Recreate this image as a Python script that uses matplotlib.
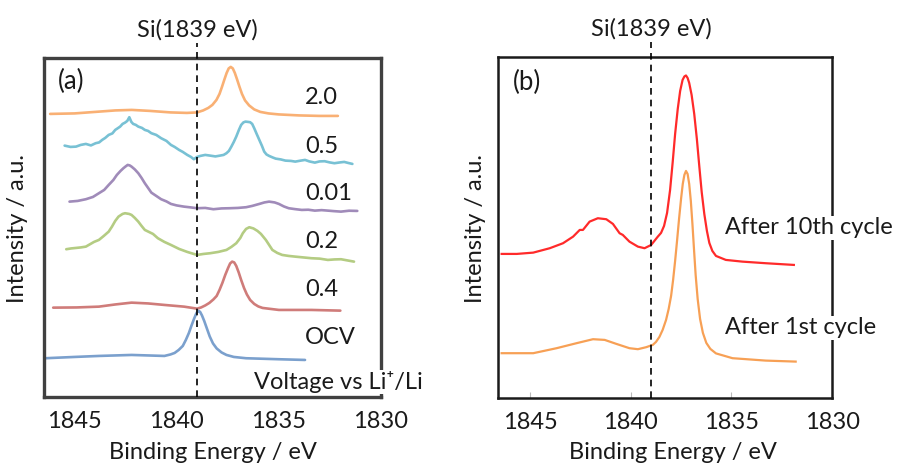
import matplotlib
matplotlib.use("Agg")
import matplotlib.pyplot as plt
import matplotlib.transforms as mtransforms

plt.rcParams["font.family"] = ["Lato", "DejaVu Sans"]

# ---- panel (a): Si K-edge spectra at different voltages (stacked, a.u.) ----
e_20 = [1846.2, 1845.0, 1844.0, 1843.0, 1842.2, 1841.3, 1840.3, 1839.5, 1839.0, 1838.7,
        1838.45, 1838.25, 1838.05, 1837.9, 1837.78, 1837.66, 1837.55, 1837.45, 1837.35,
        1837.25, 1837.15, 1837.04, 1836.92, 1836.8, 1836.65, 1836.45, 1836.2, 1835.9,
        1835.5, 1835.0, 1834.0, 1833.0, 1832.1]
i_20 = [28.3, 28.35, 28.5, 28.65, 28.7, 28.6, 28.45, 28.4, 28.45, 28.65,
        28.9, 29.2, 29.7, 30.3, 31.0, 31.75, 32.4, 32.85, 33.0,
        32.85, 32.4, 31.75, 31.0, 30.3, 29.65, 29.15, 28.75, 28.5,
        28.35, 28.25, 28.15, 28.1, 28.1]

e_05 = [1845.49, 1845.2, 1844.93, 1844.7, 1844.45, 1844.2, 1843.97, 1843.8, 1843.65, 1843.5,
        1843.33, 1843.15, 1843.01, 1842.9, 1842.77, 1842.65, 1842.53, 1842.42, 1842.32,
        1842.22, 1842.13, 1842.0, 1841.88, 1841.7, 1841.56, 1841.4, 1841.24, 1841.0,
        1840.76, 1840.5, 1840.28, 1840.1, 1839.88, 1839.7, 1839.48, 1839.3, 1839.16,
        1839.0, 1838.84, 1838.6, 1838.36, 1838.1, 1837.88, 1837.7, 1837.56, 1837.44,
        1837.32, 1837.2, 1837.08, 1836.95, 1836.84, 1836.73, 1836.63, 1836.5, 1836.4,
        1836.3, 1836.2, 1836.08, 1835.95, 1835.82, 1835.71, 1835.6, 1835.47, 1835.3,
        1835.15, 1834.9, 1834.67, 1834.4, 1834.19, 1833.95, 1833.71, 1833.5, 1833.23,
        1833.0, 1832.75, 1832.5, 1832.27, 1832.0, 1831.79, 1831.6, 1831.39]
i_05 = [25.13, 25.0, 25.03, 25.2, 25.3, 25.15, 25.37, 25.45, 25.7, 25.9,
        26.2, 26.35, 26.7, 26.85, 27.03, 27.3, 27.43, 27.6, 27.97,
        27.5, 27.3, 27.2, 27.03, 26.9, 26.7, 26.6, 26.37, 26.2,
        25.87, 25.6, 25.2, 25.0, 24.7, 24.5, 24.2, 24.0, 23.77,
        24.0, 24.1, 24.2, 24.13, 24.05, 24.13, 24.2, 24.37, 24.6,
        25.03, 25.5, 26.03, 26.7, 27.2, 27.45, 27.53, 27.5, 27.47,
        27.3, 26.87, 26.3, 25.7, 25.1, 24.53, 24.25, 24.1, 23.95,
        23.83, 23.75, 23.63, 23.6, 23.53, 23.62, 23.7, 23.55, 23.43,
        23.55, 23.57, 23.45, 23.37, 23.45, 23.5, 23.4, 23.3]

e_001 = [1845.25, 1844.85, 1844.45, 1844.1, 1843.81, 1843.55, 1843.33, 1843.1, 1842.93,
         1842.75, 1842.61, 1842.5, 1842.4, 1842.3, 1842.21, 1842.05, 1841.88, 1841.72,
         1841.56, 1841.4, 1841.24, 1841.0, 1840.76, 1840.5, 1840.28, 1840.0, 1839.64,
         1839.3, 1839.0, 1838.6, 1838.2, 1837.8, 1837.4, 1837.0, 1836.6, 1836.3, 1835.95,
         1835.7, 1835.47, 1835.2, 1834.99, 1834.75, 1834.51, 1834.2, 1833.87, 1833.55,
         1833.23, 1832.9, 1832.59, 1832.3, 1831.95, 1831.55, 1831.15]
i_001 = [19.53, 19.6, 19.77, 20.0, 20.37, 20.7, 21.2, 21.7, 22.2,
         22.6, 22.87, 23.05, 23.2, 23.15, 23.03, 22.75, 22.37, 21.9,
         21.37, 20.9, 20.43, 20.1, 19.77, 19.55, 19.3, 19.15, 19.03,
         18.95, 18.87, 18.9, 18.77, 18.85, 18.87, 18.9, 18.97, 19.1, 19.3,
         19.45, 19.53, 19.45, 19.3, 19.05, 18.87, 18.78, 18.7, 18.72,
         18.63, 18.68, 18.63, 18.58, 18.53, 18.62, 18.6]

e_02 = [1845.41, 1845.17, 1844.93, 1844.7, 1844.45, 1844.05, 1843.81, 1843.57, 1843.33, 1843.17,
        1843.01, 1842.85, 1842.65, 1842.53, 1842.33, 1842.21, 1842.05, 1841.88, 1841.72,
        1841.56, 1841.16, 1840.92, 1840.6, 1840.28, 1839.88, 1839.48, 1839.0, 1838.68,
        1838.36, 1837.96, 1837.56, 1837.32, 1837.08, 1836.88, 1836.76, 1836.6, 1836.44,
        1836.24, 1836.04, 1835.87, 1835.63, 1835.47, 1835.31, 1835.07, 1834.83, 1834.51,
        1834.19, 1833.79, 1833.39, 1832.99, 1832.59, 1832.27, 1831.95, 1831.63, 1831.31]
i_02 = [14.77, 14.85, 14.9, 14.95, 15.03, 15.5, 15.7, 16.1, 16.53, 17.03,
        17.6, 18.03, 18.3, 18.37, 18.3, 18.2, 17.9, 17.53, 17.1,
        16.7, 16.3, 15.87, 15.5, 15.2, 14.8, 14.5, 14.2, 14.3,
        14.37, 14.5, 14.7, 15.0, 15.37, 15.9, 16.37, 16.8, 16.97,
        16.85, 16.6, 16.3, 15.7, 15.2, 14.7, 14.4, 14.2, 14.1,
        14.03, 13.95, 13.87, 13.83, 13.7, 13.75, 13.77, 13.65, 13.53]

e_04 = [1846.05, 1844.9, 1843.81, 1843.0, 1842.21, 1841.4, 1840.6, 1839.64, 1839.0, 1838.8,
        1838.6, 1838.4, 1838.2, 1838.04, 1837.9, 1837.76, 1837.62, 1837.48, 1837.38,
        1837.28, 1837.18, 1837.08, 1836.96, 1836.84, 1836.7, 1836.56, 1836.4, 1836.2,
        1836.0, 1835.79, 1834.99, 1833.39, 1831.98]
i_04 = [8.93, 8.95, 9.03, 9.25, 9.43, 9.35, 9.2, 9.03, 8.83, 8.95,
        9.15, 9.4, 9.75, 10.1, 10.7, 11.4, 12.2, 12.9, 13.35,
        13.53, 13.45, 13.1, 12.45, 11.7, 10.9, 10.25, 9.7, 9.3,
        9.05, 8.9, 8.7, 8.7, 8.63]

e_ocv = [1846.45, 1845.0, 1843.81, 1842.21, 1840.6, 1840.3, 1840.1, 1839.9, 1839.7, 1839.55,
         1839.4, 1839.28, 1839.16, 1839.06, 1838.98, 1838.92, 1838.85, 1838.76, 1838.65,
         1838.52, 1838.38, 1838.22, 1838.04, 1837.8, 1837.56, 1837.2, 1836.6, 1834.99,
         1833.71]
i_ocv = [3.87, 4.0, 4.1, 4.2, 4.1, 4.25, 4.4, 4.7, 5.1, 5.7,
         6.4, 7.1, 7.75, 8.25, 8.55, 8.6, 8.5, 8.15, 7.6,
         6.85, 6.05, 5.35, 4.85, 4.45, 4.2, 4.0, 3.87, 3.77,
         3.7]

series_a = [
    ("2.0", e_20, i_20, "#F79646"),
    ("0.5", e_05, i_05, "#4BACC6"),
    ("0.01", e_001, i_001, "#8064A2"),
    ("0.2", e_02, i_02, "#9BBB59"),
    ("0.4", e_04, i_04, "#C0504D"),
    ("OCV", e_ocv, i_ocv, "#4F81BD"),
]
label_y_a = [29.9, 25.0, 20.3, 15.5, 10.7, 5.9]

# ---- panel (b): after 1st / 10th cycle ----
e_10th = [1846.42, 1845.67, 1844.85, 1844.03, 1843.37, 1842.87, 1842.54, 1842.38, 1842.05,
          1841.64, 1841.22, 1840.89, 1840.56, 1840.4, 1840.07, 1839.65, 1839.32, 1838.99,
          1838.66, 1838.5, 1838.35, 1838.2, 1838.05, 1837.92, 1837.8, 1837.67, 1837.55,
          1837.43, 1837.34, 1837.26, 1837.18, 1837.1, 1836.98, 1836.85, 1836.72, 1836.6,
          1836.48, 1836.35, 1836.22, 1836.1, 1835.95, 1835.77, 1835.28, 1834.46, 1833.3,
          1832.48, 1831.9]
i_10th = [14.4, 14.4, 14.53, 14.97, 15.47, 16.13, 16.8, 16.8, 17.63,
          17.97, 17.87, 17.4, 16.47, 16.3, 15.63, 15.13, 14.97, 15.3,
          16.13, 16.5, 17.2, 18.5, 20.8, 23.6, 26.4, 28.9, 30.7,
          31.8, 32.15, 32.25, 32.0, 31.5, 30.3, 28.4, 25.9, 23.2,
          20.6, 18.4, 16.7, 15.5, 14.7, 14.2, 13.8, 13.63, 13.47,
          13.37, 13.3]

e_1st = [1846.42, 1844.85, 1843.69, 1842.7, 1841.88, 1841.3, 1840.72, 1840.07, 1839.65,
         1839.24, 1838.91, 1838.75, 1838.58, 1838.42, 1838.25, 1838.12, 1838.0, 1837.9,
         1837.8, 1837.7, 1837.6, 1837.5, 1837.42, 1837.34, 1837.26, 1837.18, 1837.1,
         1837.02, 1836.94, 1836.86, 1836.78, 1836.68, 1836.56, 1836.42, 1836.25, 1836.05,
         1835.77, 1834.95, 1833.3, 1831.81]
i_1st = [4.47, 4.47, 4.97, 5.47, 5.87, 5.8, 5.4, 4.97, 4.87,
         5.07, 5.3, 5.6, 6.1, 6.8, 7.8, 8.9, 10.2, 11.8,
         13.7, 15.8, 18.0, 20.0, 21.4, 22.3, 22.7, 22.4, 21.4,
         19.7, 17.4, 14.8, 12.3, 9.9, 7.9, 6.5, 5.5, 4.9,
         4.45, 3.97, 3.73, 3.63]

si_energy = 1839
xticks = [1845, 1840, 1835, 1830]

fig = plt.figure(figsize=(8.98, 4.67), dpi=100)
ax_a = fig.add_axes([0.049, 0.150, 0.375, 0.726])
ax_b = fig.add_axes([0.5546, 0.148, 0.372, 0.730])

FS = 17
TXT = "#1a1a1a"

# panel (a)
for (lab, e, i, c), ly in zip(series_a, label_y_a):
    ax_a.plot(e, i, color=c, lw=1.9, alpha=0.75, solid_capstyle="round")
    ax_a.text(1833.7, ly, lab, fontsize=FS, va="center", ha="left", color=TXT)
ax_a.set_xlim(1846.5, 1830.3)
ax_a.set_ylim(0, 33.9)
ax_a.text(1836.2, 1.5, "Voltage vs Li\u207a/Li", fontsize=FS, va="center", ha="left",
          color=TXT, clip_on=False, zorder=5,
          bbox=dict(facecolor="white", edgecolor="none", pad=1))
ax_a.text(0.042, 0.93, "(a)", transform=ax_a.transAxes, fontsize=FS + 1.5, va="center",
          color=TXT)
for s in ax_a.spines.values():
    s.set_color("#404040")
    s.set_linewidth(2.4)
ax_a.tick_params(axis="x", length=0, pad=10, labelsize=FS, labelcolor=TXT)

# panel (b)
ax_b.plot(e_10th, i_10th, color="#FF2A2A", lw=1.6)
ax_b.plot(e_1st, i_1st, color="#F7A055", lw=1.6)
ax_b.set_xlim(1846.6, 1830.1)
ax_b.set_ylim(0, 34.1)
ax_b.text(1835.31, 17.0, "After 10th cycle", fontsize=FS, va="center", ha="left",
          color=TXT, clip_on=False, zorder=5,
          bbox=dict(facecolor="white", edgecolor="none", pad=1))
ax_b.text(1835.31, 7.0, "After 1st cycle", fontsize=FS, va="center", ha="left",
          color=TXT, clip_on=False, zorder=5,
          bbox=dict(facecolor="white", edgecolor="none", pad=1))
ax_b.text(0.045, 0.924, "(b)", transform=ax_b.transAxes, fontsize=FS + 1.5, va="center",
          color=TXT)
for s in ax_b.spines.values():
    s.set_color("#1a1a1a")
    s.set_linewidth(1.8)
ax_b.tick_params(axis="x", direction="in", length=4, color="#bbbbbb", pad=10,
                 labelsize=FS, labelcolor=TXT)

for ax in (ax_a, ax_b):
    ax.set_xticks(xticks)
    ax.set_yticks([])
    trans = mtransforms.blended_transform_factory(ax.transData, ax.transAxes)
    ax.plot([si_energy, si_energy], [0, 1.045], transform=trans, color="black",
            lw=1.2, ls=(0, (4, 3)), clip_on=False, zorder=4)
    ax.text(si_energy, 1.082, "Si(1839 eV)", transform=trans, fontsize=FS,
            ha="center", va="center", color=TXT)

for xc, yc in ((0.237, 0.030), (0.749, 0.030)):
    fig.text(xc, yc, "Binding Energy / eV", fontsize=FS, ha="center", va="center",
             color=TXT)
for xc in (0.020, 0.529):
    fig.text(xc, 0.51, "Intensity / a.u.", fontsize=FS, ha="center", va="center",
             rotation=90, color=TXT)

fig.savefig("out.png", dpi=100)
